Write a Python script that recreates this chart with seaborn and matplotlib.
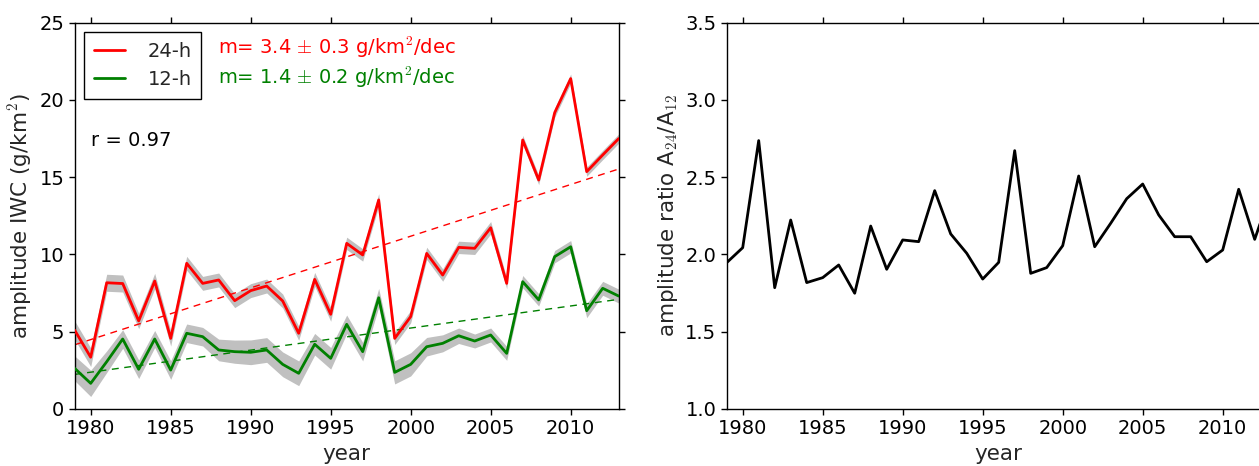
import numpy as np
import pandas as pd
import matplotlib
matplotlib.use("Agg")
import matplotlib.pyplot as plt
import seaborn as sns

years = list(range(1979, 2014))
amp24 = [5.1, 3.35, 8.17, 8.12, 5.7, 8.28, 4.57, 9.43, 8.13, 8.35, 7.01, 7.66, 7.96, 6.99, 4.9,
         8.39, 6.13, 10.72, 9.97, 13.53, 4.57, 5.98, 10.07, 8.67, 10.46, 10.4, 11.73, 8.13,
         17.41, 14.82, 19.18, 21.38, 15.36, 16.44, 17.5]
amp12 = [2.63, 1.66, 3.06, 4.53, 2.57, 4.53, 2.52, 4.9, 4.68, 3.82, 3.71, 3.67, 3.82, 2.89, 2.31,
         4.19, 3.28, 5.48, 3.71, 7.2, 2.37, 2.89, 4.03, 4.25, 4.74, 4.4, 4.79, 3.6,
         8.24, 7.06, 9.86, 10.5, 6.36, 7.81, 7.31]
err24 = [0.6, 0.6, 0.55, 0.55, 0.5, 0.5, 0.5, 0.45, 0.45, 0.45, 0.45, 0.45, 0.45, 0.45, 0.45,
         0.45, 0.45, 0.4, 0.4, 0.4, 0.4, 0.4, 0.4, 0.4, 0.4, 0.4, 0.4, 0.35,
         0.3, 0.3, 0.3, 0.3, 0.3, 0.3, 0.3]
err12 = [0.8, 0.85, 0.7, 0.6, 0.6, 0.55, 0.6, 0.6, 0.6, 0.7, 0.75, 0.8, 0.8, 0.8, 0.8,
         0.7, 0.7, 0.6, 0.6, 0.6, 0.75, 0.75, 0.6, 0.55, 0.5, 0.45, 0.45, 0.45,
         0.4, 0.4, 0.4, 0.4, 0.45, 0.45, 0.45]
ratio = [1.947, 2.044, 2.737, 1.785, 2.223, 1.818, 1.85, 1.932, 1.749, 2.184, 1.904, 2.094, 2.083,
         2.413, 2.133, 2.008, 1.841, 1.949, 2.672, 1.878, 1.915, 2.057, 2.508, 2.05, 2.202,
         2.361, 2.456, 2.256, 2.115, 2.115, 1.953, 2.029, 2.422, 2.098, 2.40]
series_labels = ["24-h", "12-h"]
slope_texts = [r"m= 3.4 $\pm$ 0.3 g/km$^2$/dec", r"m= 1.4 $\pm$ 0.2 g/km$^2$/dec"]
r_text = "r = 0.97"
left_yticks = [0, 5, 10, 15, 20, 25]
right_yticks = [1.0, 1.5, 2.0, 2.5, 3.0, 3.5]
xticks = [1980, 1985, 1990, 1995, 2000, 2005, 2010]

sns.set_style("white")
plt.rcParams["font.family"] = ["DejaVu Sans"]
plt.rcParams["mathtext.fontset"] = "cm"

df = pd.DataFrame({"year": years, "amp24": amp24, "amp12": amp12,
                   "err24": err24, "err12": err12, "ratio": ratio})

fig = plt.figure(figsize=(12.59, 4.66), dpi=100)
ax1 = fig.add_axes([74.7 / 1259, 57 / 466, 544 / 1259, 386.3 / 466])
ax2 = fig.add_axes([726.7 / 1259, 57 / 466, 544 / 1259, 386.3 / 466])

colors = ["#ff0000", "#008000"]
for col, ecol, c, lab in [("amp24", "err24", colors[0], series_labels[0]),
                          ("amp12", "err12", colors[1], series_labels[1])]:
    y = np.array(df[col]); e = np.array(df[ecol])
    ax1.fill_between(df["year"], y - e, y + e, color="#c0c0c0", lw=0, zorder=1)
    sns.lineplot(data=df, x="year", y=col, ax=ax1, color=c, lw=2, label=lab, zorder=3)
    p = np.polyfit(df["year"], y, 1)
    xs = np.array([years[0], years[-1]])
    ax1.plot(xs, np.polyval(p, xs), ls=(0, (5, 4)), color=c, lw=1, zorder=2)

ax1.set_xlim(1979, 2013)
ax1.set_ylim(0, 25)
ax1.set_yticks(left_yticks)
ax1.set_xticks(xticks)
ax1.set_xlabel("year", fontsize=15.5)
ax1.set_ylabel(r"amplitude IWC (g/km$^2$)", fontsize=15.5)
leg = ax1.legend(loc="upper left", fontsize=14, fancybox=False, framealpha=1,
                 edgecolor="black", handlelength=1.6, handletextpad=1.15,
                 borderaxespad=0.5, labelspacing=0.45, borderpad=0.5)
leg.get_frame().set_linewidth(1.0)
ax1.text(0.263, 0.937, slope_texts[0], color=colors[0], fontsize=14,
         transform=ax1.transAxes, va="center", ha="left")
ax1.text(0.263, 0.859, slope_texts[1], color=colors[1], fontsize=14,
         transform=ax1.transAxes, va="center", ha="left")
ax1.text(0.03, 0.696, r_text, color="black", fontsize=14,
         transform=ax1.transAxes, va="center", ha="left")

sns.lineplot(data=df, x="year", y="ratio", ax=ax2, color="black", lw=2)
ax2.set_xlim(1979, 2013)
ax2.set_ylim(1.0, 3.5)
ax2.set_yticks(right_yticks)
ax2.set_yticklabels([f"{v:.1f}" for v in right_yticks])
ax2.set_xticks(xticks)
ax2.set_xlabel("year", fontsize=15.5)
ax2.set_ylabel(r"amplitude ratio A$_{24}$/A$_{12}$", fontsize=15.5)

for ax in (ax1, ax2):
    for s in ax.spines.values():
        s.set_color("black"); s.set_linewidth(1.0)
    ax.tick_params(axis="both", which="both", direction="out", length=4, width=1,
                   labelsize=14, top=True, right=True, bottom=True, left=True,
                   colors="black")
    ax.set_facecolor("white")

fig.savefig("out.png", dpi=100, facecolor="white")
